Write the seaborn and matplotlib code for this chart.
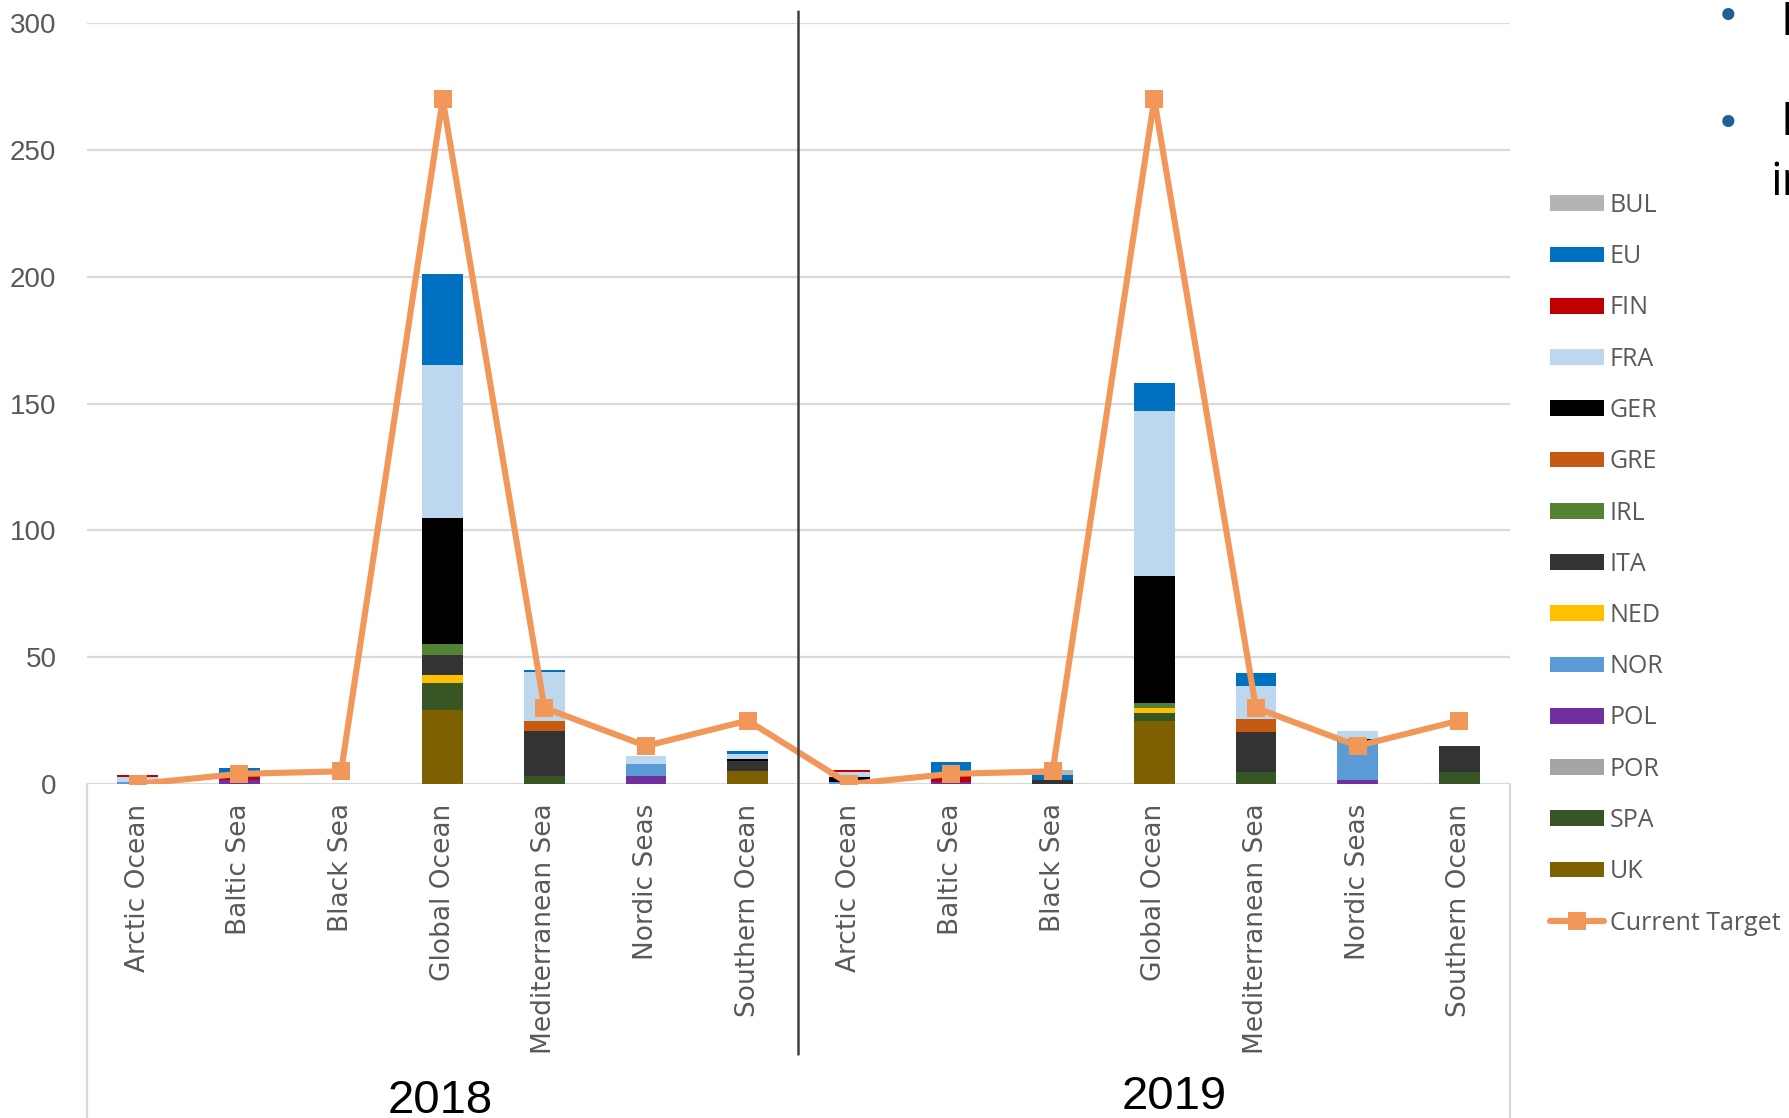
"""Stacked bars per sea and year, with the current target line on top."""

import matplotlib.pyplot as plt
import numpy as np
import pandas as pd
import seaborn as sns
from matplotlib.lines import Line2D
from matplotlib.patches import Patch

seas = ["Arctic Ocean", "Baltic Sea", "Black Sea", "Global Ocean",
        "Mediterranean Sea", "Nordic Seas", "Southern Ocean"]
years = ["2018", "2019"]

# one value per bar: 7 seas for 2018, then 7 seas for 2019
BUL = [0, 0, 0, 0, 0, 0, 0, 0, 0, 2, 0, 0, 0, 0]
EU = [0, 3.7, 0, 36, 1, 0, 1, 0, 5.5, 2, 11, 5, 0, 0]
FIN = [0.9, 1, 0, 0, 0, 0, 0, 0.8, 2.4, 0, 0, 0, 0, 0]
FRA = [2.1, 0, 0, 60, 19, 3, 2, 2.1, 0, 0, 65, 13, 2.9, 0]
GER = [0, 0, 0, 50, 0, 0, 1, 2, 0, 0, 50, 0, 1.3, 0]
GRE = [0, 0, 0, 0, 4, 0, 0, 0, 0, 0, 0, 5, 0, 0]
IRL = [0, 0, 0, 4, 0, 0, 0, 0, 0, 0, 2, 0, 0, 0]
ITA = [0, 0, 0, 8, 18, 0, 4, 0, 0, 1.7, 0, 16, 0, 10.3]
NED = [0, 0, 0, 3, 0, 0, 0, 0, 0, 0, 2, 0, 0, 0]
NOR = [0.7, 0, 0, 0, 0, 5, 0, 0.6, 0, 0, 0, 0, 14.8, 0]
POL = [0, 1.7, 0, 0, 0, 3, 0, 0, 0.7, 0, 0, 0, 1.7, 0]
POR = [0, 0, 0, 0, 0, 0, 0, 0, 0, 0, 0, 0, 0, 0]
SPA = [0, 0, 0, 11, 3, 0, 0, 0, 0, 0, 3, 4.6, 0, 4.6]
UK = [0, 0, 0, 29, 0, 0, 5, 0, 0, 0, 25, 0, 0, 0]
current_target = [0, 4, 5, 270, 30, 15, 25, 0, 4, 5, 270, 30, 15, 25]

countries = ["BUL", "EU", "FIN", "FRA", "GER", "GRE", "IRL", "ITA",
             "NED", "NOR", "POL", "POR", "SPA", "UK"]
series = [BUL, EU, FIN, FRA, GER, GRE, IRL, ITA, NED, NOR, POL, POR, SPA, UK]
colors = ["#B4B4B4", "#0070C0", "#C00000", "#BDD7EE", "#000000", "#C55A11",
          "#548235", "#333333", "#FFC000", "#5B9BD5", "#7030A0", "#A5A5A5",
          "#375623", "#7F6000"]
line_color = "#F1975A"
text_gray = "#595959"

slots = [f"{y}-{s}" for y in years for s in seas]
df = pd.DataFrame(dict(zip(countries, series)), index=slots)

W, H = 1790, 1118
fig = plt.figure(figsize=(W / 100, H / 100), dpi=100)
sns.set_style("white")
ax = fig.add_axes([87 / W, 1 - 784 / H, (1510 - 87) / W, (784 - 23) / H])

# stack from the bottom (UK) up to the top (BUL): draw running totals, tallest first
stack = df[countries[::-1]].cumsum(axis=1)
for name, col in zip(countries, colors):
    sns.barplot(x=slots, y=stack[name].values, order=slots, color=col,
                saturation=1, width=0.4, linewidth=0, errorbar=None, ax=ax)

sns.lineplot(x=np.arange(len(slots)), y=current_target, ax=ax, color=line_color,
             linewidth=4.4, marker="s", markersize=12.5, markeredgewidth=0,
             legend=False)

ax.set_xlim(-0.5, len(slots) - 0.5)
ax.set_ylim(0, 300)
ax.set_yticks(range(0, 301, 50))
ax.yaxis.grid(True, color="#D9D9D9", linewidth=1.6)
ax.set_axisbelow(True)
for sp in ax.spines.values():
    sp.set_visible(False)
ax.set_xticks(range(len(slots)))
ax.set_xticklabels([s for _ in years for s in seas], rotation=90, va="top",
                   fontsize=19, color=text_gray, family="DejaVu Sans")
ax.tick_params(axis="x", length=0, pad=14)
ax.tick_params(axis="y", length=0, pad=22, labelcolor=text_gray)
for lab in ax.get_yticklabels():
    lab.set_fontfamily("Liberation Sans")
    lab.set_fontsize(20)
ax.set_xlabel("")
ax.set_ylabel("")

# group frame lines of the two-level category axis
for x in (87, 1510):
    fig.add_artist(Line2D([x / W, x / W], [0, 1 - 784 / H],
                          color="#D9D9D9", linewidth=1.6))
fig.add_artist(Line2D([798 / W, 798 / W], [1 - 1054 / H, 1 - 11 / H],
                      color="#404040", linewidth=1.8))

for yr, xc, yt in zip(years, (440, 1174), (1079, 1075)):
    fig.text(xc / W, 1 - yt / H, yr, ha="center", va="top", fontsize=34,
             color="black", family="Liberation Sans")

# legend
handles = [Patch(facecolor=c, edgecolor="none") for c in colors]
handles.append(Line2D([], [], color=line_color, linewidth=4.4, marker="s",
                      markersize=12.5, markeredgewidth=0))
fig.legend(handles, countries + ["Current Target"], loc="upper left",
           bbox_to_anchor=(1540 / W, 1 - 183 / H), frameon=False,
           prop={"family": "Open Sans", "size": 18}, labelcolor=text_gray,
           handlelength=2.15, handleheight=0.6, handletextpad=0.25,
           labelspacing=1.05, borderaxespad=0)

# cut-off slide text at the right edge
for yb in (18, 125):
    fig.text(1728 / W, 1 - yb / H, "\u2022", ha="center", va="center",
             fontsize=30, color="#1F6095")
fig.text(1781 / W, 1 - 0 / H, "I", ha="left", va="top", fontsize=33,
         family="Open Sans", color="black")
fig.text(1781 / W, 1 - 100 / H, "K", ha="left", va="top", fontsize=33,
         family="Open Sans", color="black")
fig.text(1770 / W, 1 - 160 / H, "in", ha="left", va="top", fontsize=33,
         family="Open Sans", color="black")

fig.savefig("out.png", dpi=100)
